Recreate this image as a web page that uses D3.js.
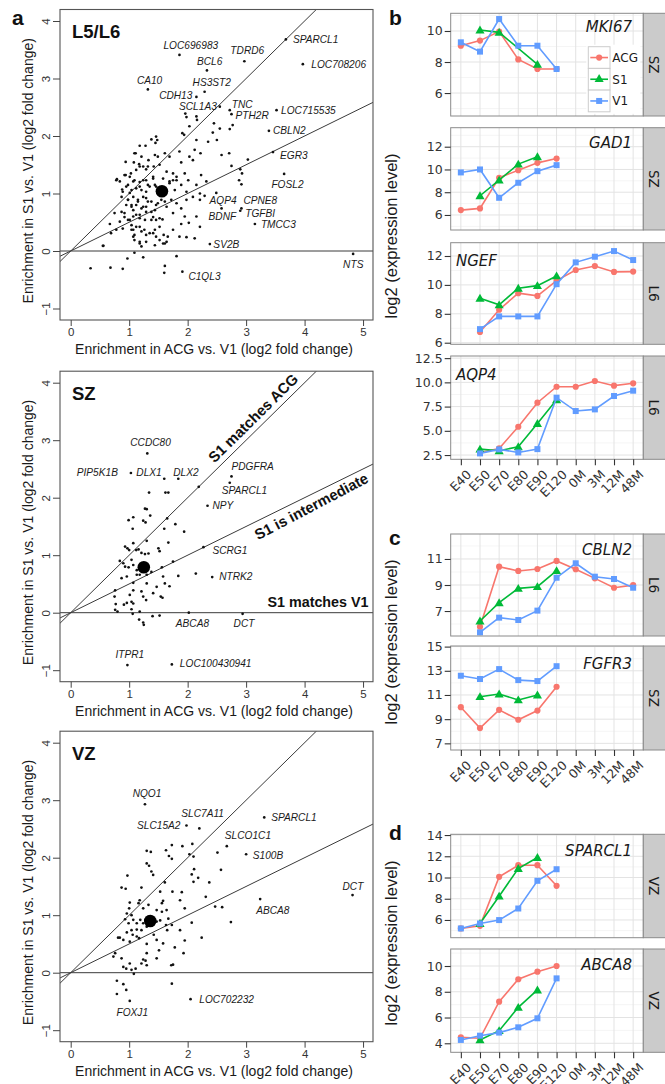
<!DOCTYPE html>
<html><head><meta charset="utf-8">
<script src="https://cdn.jsdelivr.net/npm/d3@7"></script>
<style>body{margin:0;background:#fff}svg{display:block}</style>
</head><body>
<svg id="c" width="665" height="1084"></svg>
<script>
// ---------------- DATA: scatter panels (panel a) ----------------
const scatterXTicks = [0,1,2,3,4,5];
const scatterYTicks = [-1,0,1,2,3,4];
const refSlopes = [1, 0.5, 0];

const l56Mean = [1.56, 1.04];
const l56Genes = [["SPARCL1",3.68,3.68],["LOC708206",3.97,3.25],["LOC696983",1.86,3.41],["TDRD6",2.97,3.30],
 ["BCL6",2.33,3.14],["CA10",1.32,2.81],["HS3ST2",2.29,2.77],["CDH13",2.15,2.68],["SCL1A3",2.55,2.51],
 ["TNC",2.72,2.45],["PTH2R",2.75,2.38],["LOC715535",3.52,2.45],["CBLN2",3.39,2.09],["EGR3",3.46,1.72],
 ["FOSL2",3.65,1.34],["AQP4",2.29,0.96],["CPNE8",2.92,0.74],["TGFBI",2.90,0.70],["BDNF",2.58,0.74],
 ["TMCC3",3.15,0.47],["SV2B",2.38,0.12],["C1QL3",1.91,-0.36],["NTS",4.83,-0.05]];
const l56Points = [[1.96,2.39],[1.98,2.33],[2.15,2.34],[2.16,2.28],[2.03,2.17],[1.91,2.05],[1.94,2.02],[2.15,1.93],
 [2.45,2.22],[2.55,2.13],[2.72,2.12],[2.77,2.19],[2.43,2.06],[2.35,1.90],[2.50,1.93],[1.46,1.99],[1.48,1.93],
 [1.45,1.88],[1.38,1.94],[1.18,1.83],[1.28,1.83],[1.09,1.70],[0.94,1.55],[1.21,1.64],[1.33,1.58],[1.49,1.64],
 [1.69,1.64],[1.86,1.73],[2.03,1.64],[2.12,1.76],[2.22,1.70],[2.09,1.58],[1.89,1.54],[2.58,1.67],[2.71,1.70],
 [3.03,1.59],[2.75,1.48],[2.90,1.42],[2.93,1.35],[2.88,1.23],[2.92,1.16],[2.49,1.01],
 [0.78,1.23],[0.94,1.32],[1.03,1.35],[1.12,1.41],[1.18,1.47],[1.29,1.42],[1.42,1.47],[1.52,1.50],[1.64,1.38],
 [1.75,1.35],[1.81,1.23],[1.95,1.35],[2.01,1.23],[2.23,1.32],[2.32,1.21],[2.15,1.15],[1.89,1.15],[1.69,1.21],
 [1.58,1.26],[1.41,1.29],[1.24,1.23],[1.07,1.21],[0.95,1.12],[0.84,1.21],[1.04,1.06],[1.18,1.12],[1.32,1.15],
 [1.46,1.12],[1.78,1.06],[1.98,1.03],[2.21,1.00],[1.01,1.01],
 [0.87,0.94],[0.98,0.89],[1.07,0.94],[1.15,0.89],[1.24,0.94],[1.32,0.86],[0.95,0.80],[1.04,0.77],[1.12,0.80],
 [1.21,0.74],[1.29,0.77],[1.38,0.68],[1.46,0.80],[1.55,0.89],[1.64,0.77],[1.72,0.89],[1.81,0.83],[1.89,0.74],
 [1.98,0.89],[2.09,0.94],[2.21,0.89],[0.92,0.66],[1.07,0.60],[1.18,0.63],[1.27,0.54],[1.01,0.54],[1.38,0.54],
 [1.57,0.55],[1.75,0.66],[1.95,0.60],[2.15,0.60],[2.02,0.49],[1.89,0.47],[0.75,0.66],[0.84,0.51],[0.67,0.47],
 [0.89,0.39],[1.04,0.37],[1.12,0.42],[1.21,0.34],[1.29,0.28],[1.41,0.31],[1.46,0.25],[1.07,0.25],[1.18,0.16],
 [1.21,0.08],[1.58,0.13],[1.64,0.16],[1.86,0.25],[1.98,0.24],[2.12,0.22],[2.21,0.42],[1.75,0.37],
 [0.34,-0.30],[0.68,-0.29],[0.89,-0.31],[0.97,-0.13],[1.24,-0.11],[1.09,-0.03],[1.61,-0.26],[1.60,-0.38],
 [1.81,-0.09],[0.56,0.09],
 [0.79,1.25],[1.08,1.54],[1.17,1.51],[1.11,1.70],[1.24,1.47],[1.32,1.47],[1.44,1.67],[1.61,1.70],[0.92,1.32],
 [1.01,1.29],[0.88,1.07],[0.89,1.03],[0.98,1.15],[1.09,1.23],[1.18,1.20],[1.29,1.23],[1.41,1.26],[1.12,1.09],
 [1.21,1.06],[1.29,1.03],[1.35,1.12],[1.44,1.15],[1.69,1.18],[1.75,1.23],[1.81,1.29],[0.98,0.89],[1.04,0.80],
 [1.07,0.71],[1.15,0.86],[1.24,0.77],[1.29,0.92],[1.38,0.86],[1.44,0.71],[1.49,0.83],[1.61,0.86],[0.87,0.68],
 [0.92,0.59],[0.98,0.54],[1.12,0.63],[1.18,0.57],[1.29,0.68],[1.41,0.59],[1.46,0.54],[1.52,0.57],[1.04,0.45],
 [1.07,0.37],[1.09,0.28],[1.18,0.42],[1.26,0.37],[1.35,0.31],[1.44,0.37],[1.52,0.42],[1.59,0.28],[1.66,0.25],
 [1.09,0.19],[1.18,0.13],[1.29,0.16],[1.44,0.10],[1.52,0.19],[1.61,0.13],[0.78,0.37],[0.69,0.31],[0.55,0.09]];

const szMean = [1.25, 0.79];
const szGenes = [["CCDC80",1.31,2.77],["PIP5K1B",1.03,2.43],["DLX1",1.60,2.33],["DLX2",1.84,2.33],
 ["PDGFRA",2.75,2.37],["SPARCL1",2.72,2.26],["NPY",2.34,1.86],["SCRG1",2.27,1.14],["NTRK2",2.42,0.62],
 ["ABCA8",2.02,0.0],["DCT",2.94,-0.02],["ITPR1",0.97,-0.91],["LOC100430941",1.73,-0.90]];
const szPoints = [[2.19,2.19],[1.34,2.09],[1.62,2.09],[1.67,2.09],[1.27,1.81],[1.30,1.80],[1.36,1.69],[1.24,1.60],
 [1.28,1.57],[0.99,1.61],[1.07,1.66],[1.06,1.46],[1.65,1.64],[1.60,1.46],[1.79,1.54],[1.94,1.41],[1.67,1.22],
 [1.50,1.12],[1.52,1.07],[1.30,1.25],[1.16,1.10],[1.21,1.04],[1.07,1.21],[0.93,1.15],[0.97,1.12],[1.00,1.09],
 [1.12,1.09],[1.27,1.02],[1.33,1.03],[0.84,0.90],[0.90,0.86],[0.93,0.80],[0.99,0.79],[1.04,0.92],[1.07,0.83],
 [1.13,0.74],[1.18,0.66],[1.13,0.66],[0.87,0.60],[0.96,0.63],[1.07,0.52],[1.30,0.66],[1.38,0.71],[1.47,0.45],
 [1.58,0.63],[1.56,0.79],[1.75,0.89],[1.84,0.64],[1.69,0.46],[1.61,0.51],[1.54,0.28],[1.57,0.26],[1.41,0.34],
 [1.30,0.51],[1.21,0.37],[1.24,0.28],[1.29,0.22],[1.07,0.39],[1.04,0.19],[1.07,0.16],[0.96,0.17],[0.91,0.14],
 [1.01,0.31],[0.76,0.39],[0.75,0.28],[0.77,0.15],[0.76,0.05],[0.80,0.02],[1.04,0.06],[1.06,-0.02],[1.18,0.02],
 [1.17,-0.12],[1.24,-0.17],[1.25,-0.21],[1.40,-0.06],[1.52,-0.05],[2.14,0.68]];

const vzMean = [1.36, 0.90];
const vzGenes = [["NQO1",1.27,2.93],["SLC7A11",2.20,2.51],["SLC15A2",1.98,2.56],["SPARCL1",3.31,2.70],
 ["SLCO1C1",2.67,2.20],["S100B",3.00,2.06],["ABCA8",3.24,1.28],["DCT",4.82,1.35],["LOC702232",2.05,-0.46],
 ["FOXJ1",1.01,-0.49]];
const vzPoints = [[1.30,2.12],[1.37,2.10],[1.30,1.90],[1.34,1.86],[1.38,1.76],[1.41,1.70],[0.97,1.69],[0.87,1.48],
 [0.94,1.46],[1.73,2.22],[1.63,2.13],[1.68,2.03],[1.73,1.98],[1.91,2.20],[2.08,2.24],[2.03,2.06],[2.10,2.02],
 [2.11,1.80],[2.07,1.71],[2.18,1.65],[2.10,1.58],[1.61,1.57],[1.53,1.41],[1.74,1.41],[1.90,1.40],[1.87,1.26],
 [1.95,1.12],[2.37,1.57],[2.31,1.32],[2.51,2.09],[2.57,1.79],[2.47,1.15],[2.59,1.14],[2.74,0.88],[2.07,0.87],
 [2.24,0.61],[1.87,0.74],[1.95,0.56],[1.93,0.34],[1.78,0.44],[1.72,0.13],[1.75,0.14],[1.73,-0.19],[1.51,0.39],
 [1.47,0.25],[1.65,0.74],[1.01,1.22],[1.00,1.12],[1.16,1.21],[1.24,1.12],[1.33,1.18],[1.47,1.09],[1.56,1.21],
 [1.58,1.25],[1.64,1.09],[1.56,1.06],[1.67,0.94],[1.53,0.91],[1.47,0.89],[1.63,0.83],[1.73,0.83],[0.96,1.03],
 [1.04,1.00],[0.93,0.93],[0.99,0.86],[1.07,0.92],[1.13,0.86],[1.19,0.92],[1.24,0.86],[1.30,0.80],[1.33,0.97],
 [1.13,0.75],[1.04,0.74],[0.96,0.70],[1.06,0.66],[1.13,0.63],[1.21,0.74],[0.84,0.61],[0.81,0.61],[0.90,0.57],
 [1.01,0.54],[1.17,0.60],[1.30,0.50],[1.42,0.66],[1.47,0.57],[1.58,0.51],[1.30,0.34],[0.76,0.34],[0.73,0.28],
 [0.87,0.25],[0.90,0.10],[0.95,0.07],[1.01,0.16],[1.04,0.05],[1.08,-0.02],[1.11,0.07],[1.24,0.23],[1.28,0.21],
 [1.21,0.16],[1.30,0.13],[0.79,-0.14],[0.90,-0.20],[0.95,-0.30],[0.79,-0.37],[1.21,1.48],[1.18,1.26]];

// ---------------- DATA: time-course panels (b, c, d) ----------------
const stages = ["E40","E50","E70","E80","E90","E120","0M","3M","12M","48M"];
const regions = ["ACG","S1","V1"];
const mki67ACG = [9.05,9.38,9.96,8.17,7.55,7.55,null,null,null,null];
const mki67S1  = [null,10.06,9.91,null,7.85,null,null,null,null,null];
const mki67V1  = [9.27,8.67,10.77,9.05,9.05,7.55,null,null,null,null];
const gad1ACG  = [6.43,6.58,9.27,9.94,10.58,10.96,null,null,null,null];
const gad1S1   = [null,7.69,9.06,10.47,11.11,null,null,null,null,null];
const gad1V1   = [9.74,10.0,7.51,8.83,9.85,10.38,null,null,null,null];
const ngefACG  = [null,6.74,8.28,9.43,9.24,10.30,11.03,11.31,10.90,10.92];
const ngefS1   = [null,9.08,8.62,9.77,9.95,10.62,null,null,null,null];
const ngefV1   = [null,6.94,7.82,7.82,7.82,10.05,11.56,11.95,12.34,11.72];
const aqp4ACG  = [null,2.77,3.18,5.42,7.90,9.55,9.55,10.14,9.66,9.90];
const aqp4S1   = [null,3.11,2.94,3.35,5.76,8.20,null,null,null,null];
const aqp4V1   = [null,2.67,3.08,2.77,3.11,8.42,7.04,7.21,8.59,9.14];
const cbln2ACG = [null,5.79,10.41,10.08,10.23,10.85,10.21,9.51,8.79,8.99];
const cbln2S1  = [null,6.23,7.64,8.74,8.87,10.10,null,null,null,null];
const cbln2V1  = [null,5.36,6.49,6.31,7.03,9.56,10.67,9.64,9.46,8.79];
const fgfr3ACG = [9.99,8.26,9.77,8.95,9.71,11.68,null,null,null,null];
const fgfr3S1  = [null,10.86,11.08,10.59,11.0,null,null,null,null,null];
const fgfr3V1  = [12.59,12.32,13.14,12.23,12.15,13.38,null,null,null,null];
const sparcl1ACG = [5.20,5.45,10.06,11.16,11.16,9.22,null,null,null,null];
const sparcl1S1  = [null,5.67,8.24,10.85,11.88,null,null,null,null,null];
const sparcl1V1  = [5.20,5.67,5.99,7.08,9.69,10.78,null,null,null,null];
const abca8ACG = [4.46,4.39,7.23,8.97,9.56,10.0,null,null,null,null];
const abca8S1  = [null,4.26,4.98,6.79,8.14,null,null,null,null,null];
const abca8V1  = [4.26,4.59,4.83,5.24,5.94,9.04,null,null,null,null];

// ---------------- LAYOUT (label placement, not data) ----------------
const l56LabelPos = {SPARCL1:[7,4],LOC708206:[8.5,3.5],LOC696983:[-16,-6],TDRD6:[-14,-7],BCL6:[-10,-5],CA10:[-11,-5],
 HS3ST2:[-12,-6],CDH13:[-4,2,"end"],SCL1A3:[-3,3,"end"],TNC:[2,-2],PTH2R:[4,5],LOC715535:[4.5,3.5],CBLN2:[4,3.5],
 EGR3:[7,7],FOSL2:[-12.7,13.7],AQP4:[5,8],CPNE8:[2,-4],TGFBI:[5,6],BDNF:[-13,12],TMCC3:[6,4],SV2B:[3.5,3.5],
 C1QL3:[6,8],NTS:[-10,14]};
const szLabelPos = {CCDC80:[-17,-7.3],PIP5K1B:[-13,3.5,"end"],DLX1:[-2.5,-3,"end"],DLX2:[-5,-3],PDGFRA:[0,-6],
 SPARCL1:[-8,11.7],NPY:[5,3.5],SCRG1:[9,7],NTRK2:[7,3],ABCA8:[-13,14],DCT:[-9,13],ITPR1:[-12,-7],LOC100430941:[8,3]};
const vzLabelPos = {NQO1:[-12.3,-7.3],SLC7A11:[-18,-11.6],SLC15A2:[-6,3.3,"end"],SPARCL1:[7,3.5],SLCO1C1:[-2,-7],
 S100B:[6.7,4.3],ABCA8:[-4,15],DCT:[-10,-5],LOC702232:[8.7,4],FOXJ1:[-13.3,15]};

const svg = d3.select("#c");
const SANS = "'Liberation Sans', Arial, sans-serif";
const DJV = "'DejaVu Sans', Verdana, sans-serif";

// ---------------- scatter panels ----------------
const xS = d3.scaleLinear().domain([-0.183, 5.17]).range([60, 373]);
const SH = 310.5;

function scatter(idx, top, title, pts, genes, mean, lpos, notes) {
  const yS = d3.scaleLinear().domain([-1.2, 4.2]).range([top + SH, top]);
  const g = svg.append("g");
  const cid = "clipS" + idx;
  svg.append("clipPath").attr("id", cid).append("rect")
    .attr("x", 60).attr("y", top).attr("width", 313).attr("height", SH);
  const cg = g.append("g").attr("clip-path", `url(#${cid})`);
  const ln = d3.line().x(d => xS(d[0])).y(d => yS(d[1]));
  refSlopes.forEach(s => {
    cg.append("path").attr("d", ln(xS.domain().map(x => [x, x * s])))
      .attr("fill", "none").attr("stroke", "#3a3a3a").attr("stroke-width", 1);
  });
  const all = pts.concat(genes.map(d => [d[1], d[2]]));
  cg.selectAll("circle.pt").data(all).join("circle").attr("class", "pt")
    .attr("cx", d => xS(d[0])).attr("cy", d => yS(d[1])).attr("r", 1.35).attr("fill", "#111");
  cg.append("circle").attr("cx", xS(mean[0])).attr("cy", yS(mean[1])).attr("r", 6.3).attr("fill", "#000");
  genes.forEach(d => {
    const o = lpos[d[0]] || [4, 3];
    g.append("text").attr("transform", `translate(${xS(d[1]) + o[0]},${yS(d[2]) + o[1]}) scale(0.86,1)`)
      .attr("text-anchor", o[2] || "start").attr("font-family", SANS).attr("font-style", "italic")
      .attr("font-size", 11.8).attr("fill", "#1a1a1a").text(d[0]);
  });
  g.append("rect").attr("x", 60).attr("y", top).attr("width", 313).attr("height", SH)
    .attr("fill", "none").attr("stroke", "#555").attr("stroke-width", 1.1);
  const gy = g.append("g").attr("transform", "translate(60,0)")
    .call(d3.axisLeft(yS).tickValues(scatterYTicks).tickSize(7).tickFormat(d3.format("d")));
  gy.select(".domain").remove();
  gy.selectAll("line").attr("stroke", "#444");
  gy.selectAll("text").attr("x", 0).attr("y", -10).attr("dy", 0).attr("transform", "rotate(-90)")
    .attr("text-anchor", "middle").attr("font-family", SANS).attr("font-size", 11.5).attr("fill", "#333");
  const gx = g.append("g").attr("transform", `translate(0,${top + SH})`)
    .call(d3.axisBottom(xS).tickValues(scatterXTicks).tickSize(6).tickFormat(d3.format("d")));
  gx.select(".domain").remove();
  gx.selectAll("line").attr("stroke", "#444");
  gx.selectAll("text").attr("y", 8).attr("font-family", SANS).attr("font-size", 11.5).attr("fill", "#333");
  g.append("text").attr("x", 214).attr("y", top + SH + 34).attr("text-anchor", "middle")
    .attr("font-family", SANS).attr("font-size", 14).attr("fill", "#1a1a1a")
    .text("Enrichment in ACG vs. V1 (log2 fold change)");
  g.append("text").attr("transform", `translate(33,${top + SH / 2 + 6}) rotate(-90)`).attr("text-anchor", "middle")
    .attr("font-family", SANS).attr("font-size", 14).attr("fill", "#1a1a1a")
    .text("Enrichment in S1 vs. V1 (log2 fold change)");
  g.append("text").attr("x", 72).attr("y", top + 28.5).attr("font-family", SANS).attr("font-weight", "bold")
    .attr("font-size", 18.5).attr("fill", "#111").text(title);
  if (notes) {
    const ang1 = Math.atan2(yS(1) - yS(0), xS(1) - xS(0)) * 180 / Math.PI;
    const ang2 = Math.atan2(yS(0.5) - yS(0), xS(1) - xS(0)) * 180 / Math.PI;
    g.append("text").attr("transform", `translate(${xS(3.25)},${yS(3.25)}) rotate(${ang1})`)
      .attr("text-anchor", "middle").attr("dy", -5.6).attr("font-family", SANS).attr("font-weight", "bold")
      .attr("font-size", 15).attr("textLength", 119).attr("lengthAdjust", "spacingAndGlyphs")
      .attr("fill", "#111").text("S1 matches ACG");
    g.append("text").attr("transform", `translate(${xS(4.03)},${yS(4.03 / 2)}) rotate(${ang2 - 1.5})`)
      .attr("text-anchor", "middle").attr("dy", 16).attr("font-family", SANS).attr("font-weight", "bold")
      .attr("font-size", 15).attr("textLength", 126).attr("lengthAdjust", "spacingAndGlyphs")
      .attr("fill", "#111").text("S1 is intermediate");
    g.append("text").attr("x", 368.5).attr("y", yS(0) - 6).attr("text-anchor", "end")
      .attr("font-family", SANS).attr("font-weight", "bold").attr("font-size", 15.3)
      .attr("textLength", 101).attr("lengthAdjust", "spacingAndGlyphs").attr("fill", "#111")
      .text("S1 matches V1");
  }
}

scatter(0, 9.5, "L5/L6", l56Points, l56Genes, l56Mean, l56LabelPos, false);
scatter(1, 371.2, "SZ", szPoints, szGenes, szMean, szLabelPos, true);
scatter(2, 731.2, "VZ", vzPoints, vzGenes, vzMean, vzLabelPos, false);

// ---------------- time-course facets ----------------
const colors = {ACG: "#F8766D", S1: "#00BA38", V1: "#619CFF"};
const shapes = {ACG: d3.symbolCircle, S1: d3.symbolTriangle, V1: d3.symbolSquare};
const shapeSize = {ACG: 30, S1: 36, V1: 36};
const xP = d3.scalePoint().domain(stages).range([450.7, 643.3]).padding(0.53);
const PL = 450.7, PR = 643.3, SR = 665;

const facets = [
 {gene:"MKI67", strip:"SZ", top:13.3, bot:116, dom:[4.52,11.14], ticks:[6,8,10], right:true, ly:18.6, fmt:"d", s:[mki67ACG,mki67S1,mki67V1], legend:true},
 {gene:"GAD1", strip:"SZ", top:127.7, bot:230, dom:[4.68,13.67], ticks:[6,8,10,12], right:true, ly:20.5, fmt:"d", s:[gad1ACG,gad1S1,gad1V1]},
 {gene:"NGEF", strip:"L6", top:242.7, bot:344.3, dom:[5.89,12.92], ticks:[6,8,10,12], right:false, ly:23, fmt:"d", s:[ngefACG,ngefS1,ngefV1]},
 {gene:"AQP4", strip:"L6", top:356, bot:459.3, dom:[2.06,12.72], ticks:[2.5,5,7.5,10,12.5], right:false, ly:23.5, fmt:".1f", s:[aqp4ACG,aqp4S1,aqp4V1], xaxis:true},
 {gene:"CBLN2", strip:"L6", top:534, bot:636, dom:[5.08,12.92], ticks:[7,9,11], right:true, ly:21, fmt:"d", s:[cbln2ACG,cbln2S1,cbln2V1]},
 {gene:"FGFR3", strip:"SZ", top:646, bot:750, dom:[6.45,15.05], ticks:[7,9,11,13,15], right:true, ly:22.5, fmt:"d", s:[fgfr3ACG,fgfr3S1,fgfr3V1], xaxis:true},
 {gene:"SPARCL1", strip:"VZ", top:834.3, bot:937.7, dom:[4.33,14.07], ticks:[6,8,10,12,14], right:true, ly:21.7, fmt:"d", s:[sparcl1ACG,sparcl1S1,sparcl1V1]},
 {gene:"ABCA8", strip:"VZ", top:949, bot:1052.3, dom:[3.30,11.32], ticks:[4,6,8,10], right:true, ly:21, fmt:"d", s:[abca8ACG,abca8S1,abca8V1], xaxis:true}
];

facets.forEach((f, i) => {
  const y = d3.scaleLinear().domain(f.dom).range([f.bot, f.top]);
  const g = svg.append("g");
  const h = f.bot - f.top;
  g.append("rect").attr("x", PL).attr("y", f.top).attr("width", PR - PL).attr("height", h).attr("fill", "#fff");
  const step = f.ticks[1] - f.ticks[0];
  const minors = [];
  for (let v = f.ticks[0] - step / 2; v <= f.dom[1]; v += step) if (v >= f.dom[0]) minors.push(v);
  g.selectAll("line.mi").data(minors).join("line").attr("x1", PL).attr("x2", PR)
    .attr("y1", d => y(d)).attr("y2", d => y(d)).attr("stroke", "#F2F2F2").attr("stroke-width", 0.8);
  g.selectAll("line.ma").data(f.ticks.filter(t => t > f.dom[0] && t < f.dom[1])).join("line")
    .attr("x1", PL).attr("x2", PR).attr("y1", d => y(d)).attr("y2", d => y(d))
    .attr("stroke", "#E3E3E3").attr("stroke-width", 1);
  g.selectAll("line.vx").data(stages).join("line").attr("x1", d => xP(d)).attr("x2", d => xP(d))
    .attr("y1", f.top).attr("y2", f.bot).attr("stroke", "#E3E3E3").attr("stroke-width", 1);
  regions.forEach((r, k) => {
    const vals = f.s[k].map((v, j) => ({x: stages[j], v})).filter(d => d.v != null);
    g.append("path").datum(vals)
      .attr("d", d3.line().x(d => xP(d.x)).y(d => y(d.v)))
      .attr("fill", "none").attr("stroke", colors[r]).attr("stroke-width", 1.6);
    g.selectAll("path.sym" + k).data(vals).join("path").attr("class", "sym" + k)
      .attr("transform", d => `translate(${xP(d.x)},${y(d.v) + (r === "S1" ? 0.8 : 0)})`)
      .attr("d", d3.symbol(shapes[r], shapeSize[r])).attr("fill", colors[r]);
  });
  g.append("rect").attr("x", PL).attr("y", f.top).attr("width", PR - PL).attr("height", h)
    .attr("fill", "none").attr("stroke", "#8a8a8a").attr("stroke-width", 1);
  g.append("rect").attr("x", PR).attr("y", f.top).attr("width", SR - PR + 2).attr("height", h)
    .attr("fill", "#CBCBCB").attr("stroke", "#8a8a8a").attr("stroke-width", 1);
  g.append("text").attr("transform", `translate(${(PR + SR) / 2},${(f.top + f.bot) / 2}) rotate(90)`)
    .attr("text-anchor", "middle").attr("dy", "0.36em").attr("font-family", DJV).attr("font-size", 13.5)
    .attr("fill", "#1a1a1a").text(f.strip);
  const ga = g.append("g").attr("transform", `translate(${PL},0)`)
    .call(d3.axisLeft(y).tickValues(f.ticks).tickSize(6).tickPadding(2).tickFormat(d3.format(f.fmt)));
  ga.select(".domain").remove();
  ga.selectAll("line").attr("stroke", "#333").attr("stroke-width", 1.1);
  ga.selectAll("text").attr("font-family", DJV).attr("font-size", 12.5).attr("fill", "#333");
  g.append("text").attr("x", f.right ? 632 : 456).attr("y", f.top + f.ly)
    .attr("text-anchor", f.right ? "end" : "start").attr("font-family", DJV).attr("font-style", "italic")
    .attr("font-size", 15).attr("fill", "#1a1a1a").text(f.gene);
  if (f.xaxis) {
    const gx = g.append("g").attr("transform", `translate(0,${f.bot})`)
      .call(d3.axisBottom(xP).tickSize(6).tickFormat(""));
    gx.select(".domain").remove();
    gx.selectAll("line").attr("stroke", "#333").attr("stroke-width", 1.1);
    g.selectAll("text.xl").data(stages).join("text").attr("class", "xl")
      .attr("transform", d => `translate(${xP(d) + 5},${f.bot + 10}) rotate(-45)`)
      .attr("text-anchor", "end").attr("dy", "0.7em").attr("font-family", DJV).attr("font-size", 12.5)
      .attr("fill", "#333").text(d => d);
  }
  if (f.legend) {
    const lx = 588.3, ly0 = 46.7, kh = 21.7;
    g.append("rect").attr("x", lx - 2).attr("y", ly0 - 2).attr("width", 54).attr("height", kh * 3 + 4).attr("fill", "#fff");
    regions.forEach((r, k) => {
      const yy = ly0 + k * kh;
      g.append("rect").attr("x", lx).attr("y", yy).attr("width", 21.7).attr("height", kh)
        .attr("fill", "#fff").attr("stroke", "#CCCCCC").attr("stroke-width", 1);
      g.append("line").attr("x1", lx + 2).attr("x2", lx + 19.7).attr("y1", yy + kh / 2).attr("y2", yy + kh / 2)
        .attr("stroke", colors[r]).attr("stroke-width", 1.6);
      g.append("path").attr("transform", `translate(${lx + 10.85},${yy + kh / 2})`)
        .attr("d", d3.symbol(shapes[r], shapeSize[r])).attr("fill", colors[r]);
      g.append("text").attr("x", lx + 24).attr("y", yy + kh / 2).attr("dy", "0.36em")
        .attr("font-family", DJV).attr("font-size", 12).attr("fill", "#1a1a1a").text(r);
    });
  }
});

// right y-axis titles
[236, 642, 943].forEach(cy => {
  svg.append("text").attr("transform", `translate(397,${cy}) rotate(-90)`)
    .attr("text-anchor", "middle").attr("font-family", SANS).attr("font-size", 16)
    .attr("textLength", 165).attr("lengthAdjust", "spacingAndGlyphs").attr("fill", "#1a1a1a")
    .text("log2 (expression level)");
});

// panel letters
[["a", 12, 25], ["b", 389, 25], ["c", 389, 545], ["d", 389, 840]].forEach(([t, x, yy]) => {
  svg.append("text").attr("x", x).attr("y", yy).attr("font-family", SANS).attr("font-weight", "bold")
    .attr("font-size", 21).attr("fill", "#111").text(t);
});
</script>
</body></html>
